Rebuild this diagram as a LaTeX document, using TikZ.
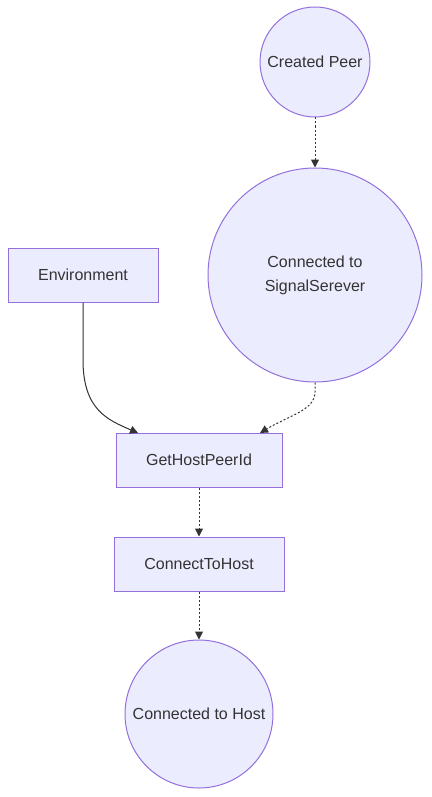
\documentclass[tikz,border=0pt]{standalone}
\usepackage{fontspec}
\setmainfont{Liberation Sans}
\usetikzlibrary{arrows.meta}
\definecolor{nfill}{HTML}{ECECFF}
\definecolor{nstroke}{HTML}{9370DB}
\definecolor{edge}{HTML}{333333}
\definecolor{txt}{HTML}{333333}
\begin{document}
\begin{tikzpicture}[x=1pt,y=-1pt,
  every node/.style={font=\fontsize{16}{24}\selectfont, text=txt},
  roundnode/.style={circle, draw=nstroke, fill=nfill, line width=1pt, inner sep=0pt, align=center},
  boxnode/.style={rectangle, draw=nstroke, fill=nfill, line width=1pt, inner sep=0pt, align=center},
  link/.style={draw=edge, line width=1pt, -{Triangle[length=8pt,width=8pt]}},
  dotlink/.style={link, dash pattern=on 2pt off 2pt}]
\useasboundingbox (0,0) rectangle (431,797);
\node[roundnode, minimum size=110pt] (peer) at (315,62) {Created Peer};
\node[roundnode, minimum size=214pt] (sig) at (315,275) {Connected to\\SignalSerever};
\node[boxnode, minimum width=150pt, minimum height=54pt] (env) at (83,275) {Environment};
\node[boxnode, minimum width=166pt, minimum height=54pt] (ghp) at (199,460) {GetHostPeerId};
\node[boxnode, minimum width=170pt, minimum height=54pt] (cth) at (199,564) {ConnectToHost};
\node[roundnode, minimum size=148pt] (host) at (199,714) {Connected to Host};
\coordinate (ghpL) at (138,433);
\coordinate (ghpR) at (260,433);
\draw[dotlink] (peer.south) -- (sig.north);
\draw[link] (env.south) -- (83,360) .. controls (83,410) and (108,420) .. (ghpL);
\draw[dotlink] (sig.south) -- (315,392) .. controls (315,410) and (290,415) .. (ghpR);
\draw[dotlink] (ghp.south) -- (cth.north);
\draw[dotlink] (cth.south) -- (host.north);
\end{tikzpicture}
\end{document}
